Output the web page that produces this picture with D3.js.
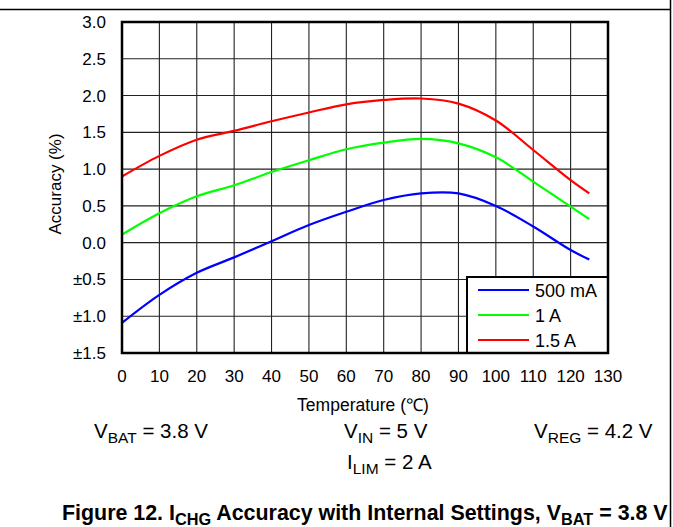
<!DOCTYPE html>
<html>
<head>
<meta charset="utf-8">
<script src="https://cdn.jsdelivr.net/npm/d3@7/dist/d3.min.js"></script>
<style>
	body { margin: 0; background: #fff; }
	svg { display: block; }
</style>
</head>
<body>
<div id="chart"></div>
<script>
// data
var temps = [0, 10, 20, 30, 40, 50, 60, 70, 80, 90, 100, 110, 120, 125];
var acc500mA = [-1.09, -0.71, -0.41, -0.20, 0.02, 0.24, 0.42, 0.58, 0.67, 0.67, 0.50, 0.22, -0.10, -0.23];
var acc1A = [0.11, 0.40, 0.63, 0.78, 0.96, 1.12, 1.27, 1.36, 1.41, 1.35, 1.16, 0.83, 0.49, 0.32];
var acc1p5A = [0.90, 1.18, 1.40, 1.52, 1.65, 1.77, 1.88, 1.94, 1.96, 1.89, 1.66, 1.26, 0.85, 0.67];
var seriesNames = ["500 mA", "1 A", "1.5 A"];
var seriesColors = ["#0000ff", "#00ff00", "#ff0000"];
var xTicks = [0, 10, 20, 30, 40, 50, 60, 70, 80, 90, 100, 110, 120, 130];
var yTicks = [3.0, 2.5, 2.0, 1.5, 1.0, 0.5, 0.0, -0.5, -1.0, -1.5];
var yTickLabels = ["3.0", "2.5", "2.0", "1.5", "1.0", "0.5", "0.0", "±0.5", "±1.0", "±1.5"];

makechart()

function makechart() {
	var W = 673, H = 527;
	var font = "'Liberation Sans', Arial, sans-serif";
	var plot = { left: 122, right: 608, top: 22, bottom: 353 };

	var svg = d3.select("#chart")
		.append("svg")
		.attr("width", W)
		.attr("height", H)
		.style("font-family", font);

	svg.append("rect").attr("width", W).attr("height", H).attr("fill", "#fff");

	// page frame bits (top rule and right edge)
	svg.append("line").attr("x1", 0).attr("x2", 670.5).attr("y1", 9.5).attr("y2", 9.5)
		.attr("stroke", "#000").attr("stroke-width", 1.5);
	svg.append("line").attr("x1", 670.5).attr("x2", 670.5).attr("y1", 0).attr("y2", H)
		.attr("stroke", "#000").attr("stroke-width", 1.5);

	var x = d3.scaleLinear().domain([0, 130]).range([plot.left, plot.right]);
	var y = d3.scaleLinear().domain([-1.5, 3.0]).range([plot.bottom, plot.top]);

	// grid
	var g = svg.append("g");
	g.selectAll(".vgrid")
		.data(xTicks.slice(1, -1))
		.enter().append("line")
		.attr("x1", d => x(d)).attr("x2", d => x(d))
		.attr("y1", plot.top).attr("y2", plot.bottom)
		.attr("stroke", "#222").attr("stroke-width", 1.1);
	g.selectAll(".hgrid")
		.data(yTicks.slice(1, -1))
		.enter().append("line")
		.attr("x1", plot.left).attr("x2", plot.right)
		.attr("y1", d => y(d)).attr("y2", d => y(d))
		.attr("stroke", "#222").attr("stroke-width", 1.1);

	// curves
	var series = [acc500mA, acc1A, acc1p5A];
	var line = d3.line()
		.x((d, i) => x(temps[i]))
		.y(d => y(d))
		.curve(d3.curveCatmullRom.alpha(0.5));
	g.selectAll(".curve")
		.data(series)
		.enter().append("path")
		.attr("d", d => line(d))
		.attr("fill", "none")
		.attr("stroke", (d, i) => seriesColors[i])
		.attr("stroke-width", 2.2);

	// legend
	var lg = svg.append("g");
	lg.append("rect")
		.attr("x", 467).attr("y", 277)
		.attr("width", plot.right - 467).attr("height", plot.bottom - 277)
		.attr("fill", "#fff").attr("stroke", "#000").attr("stroke-width", 2);
	var items = lg.selectAll(".item")
		.data(seriesNames)
		.enter().append("g")
		.attr("transform", (d, i) => `translate(0,${290 + i * 25})`);
	items.append("line")
		.attr("x1", 478).attr("x2", 529)
		.attr("stroke", (d, i) => seriesColors[i])
		.attr("stroke-width", 2.2);
	items.append("text")
		.attr("x", 535).attr("y", 6.5)
		.style("font-size", "18px")
		.text(d => d);

	// plot border
	svg.append("rect")
		.attr("x", plot.left).attr("y", plot.top)
		.attr("width", plot.right - plot.left).attr("height", plot.bottom - plot.top)
		.attr("fill", "none").attr("stroke", "#000").attr("stroke-width", 2.5);

	// tick labels
	svg.selectAll(".xt")
		.data(xTicks)
		.enter().append("text")
		.attr("x", d => x(d)).attr("y", 382)
		.attr("text-anchor", "middle")
		.style("font-size", "17px")
		.text(d => d);
	svg.selectAll(".yt")
		.data(yTicks)
		.enter().append("text")
		.attr("x", 106).attr("y", d => y(d) + 6)
		.attr("text-anchor", "end")
		.style("font-size", "17px")
		.text((d, i) => yTickLabels[i]);

	// axis titles
	svg.append("text")
		.attr("x", 363).attr("y", 411)
		.attr("text-anchor", "middle")
		.style("font-size", "17.5px")
		.text("Temperature (℃)");
	svg.append("text")
		.attr("transform", "translate(61,184) rotate(-90)")
		.attr("text-anchor", "middle")
		.style("font-size", "17px")
		.text("Accuracy (%)");

	// conditions
	function sub(x0, y0, main, s, rest, size, subSize, bold) {
		var t = svg.append("text")
			.attr("x", x0).attr("y", y0)
			.style("font-size", size + "px")
			.style("font-weight", bold ? "bold" : "normal");
		t.append("tspan").text(main);
		t.append("tspan").attr("dy", 5).style("font-size", subSize + "px").text(s);
		t.append("tspan").attr("dy", -5).text(rest);
		return t;
	}
	sub(94, 438, "V", "BAT", " = 3.8 V", 20.5, 15.5);
	sub(344, 438, "V", "IN", " = 5 V", 20.5, 15.5);
	sub(534, 438, "V", "REG", " = 4.2 V", 20.5, 15.5);
	sub(347, 469, "I", "LIM", " = 2 A", 20.5, 15.5);

	// caption
	var cap = svg.append("text")
		.attr("x", 62).attr("y", 520)
		.style("font-size", "21.4px")
		.style("font-weight", "bold");
	cap.append("tspan").text("Figure 12. I");
	cap.append("tspan").attr("dy", 5).style("font-size", "16.3px").text("CHG");
	cap.append("tspan").attr("dy", -5).text(" Accuracy with Internal Settings, V");
	cap.append("tspan").attr("dy", 5).style("font-size", "16.3px").text("BAT");
	cap.append("tspan").attr("dy", -5).text(" = 3.8 V");
}
</script>
</body>
</html>
